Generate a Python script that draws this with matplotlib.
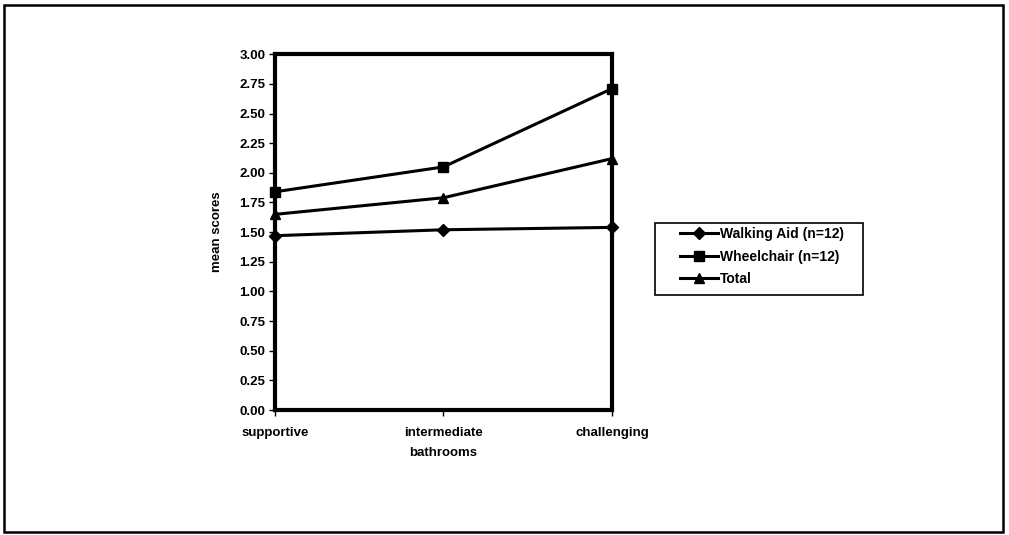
import matplotlib.pyplot as plt
from matplotlib.patches import Rectangle

# bathroom types and mean scores per group
categories = ["supportive", "intermediate", "challenging"]
walking_aid = [1.47, 1.52, 1.54]
wheelchair = [1.84, 2.05, 2.71]
total = [1.65, 1.79, 2.12]

plt.rcParams['font.family'] = ['Liberation Sans', 'DejaVu Sans']
plt.rcParams['font.weight'] = 'bold'

fig = plt.figure(figsize=(10.09, 5.35), dpi=100)

# outer frame around the whole chart
fig.patches.append(Rectangle((0.004, 0.005), 0.99, 0.985, transform=fig.transFigure,
                             fill=False, edgecolor='black', linewidth=1.8))

ax = fig.add_axes([0.2725, 0.2336, 0.334, 0.665])
x = range(len(categories))
ax.plot(x, walking_aid, color='black', lw=2.2, marker='D', ms=6.5, label='Walking Aid (n=12)', clip_on=False, zorder=5)
ax.plot(x, wheelchair, color='black', lw=2.2, marker='s', ms=7, label='Wheelchair (n=12)', clip_on=False, zorder=5)
ax.plot(x, total, color='black', lw=2.2, marker='^', ms=7.5, label='Total', clip_on=False, zorder=5)

ax.set_xlim(0, 2)
ax.set_ylim(0, 3)
ax.set_yticks([i * 0.25 for i in range(13)])
ax.set_yticklabels([f"{i * 0.25:.2f}" for i in range(13)])
ax.set_xticks(list(x))
ax.set_xticklabels(categories)
ax.tick_params(axis='both', direction='out', length=4, width=1, labelsize=9.5, pad=3)
ax.tick_params(axis='x', pad=8)
for s in ax.spines.values():
    s.set_linewidth(3)

ax.set_xlabel("bathrooms", fontsize=9.5, fontweight='bold', labelpad=6)
ax.set_ylabel("mean scores", fontsize=9.5, fontweight='bold', labelpad=12)

# legend entries without frame, box drawn separately
leg = fig.legend(loc='upper left', bbox_to_anchor=(680 / 1009, 1 - 227 / 535), frameon=False,
                 fontsize=10, handlelength=2.75, borderpad=0, borderaxespad=0,
                 labelspacing=0.62, handletextpad=0.15)
fig.patches.append(Rectangle((655 / 1009, 1 - 295 / 535), 208 / 1009, 72 / 535,
                             transform=fig.transFigure, fill=False, edgecolor='black',
                             linewidth=1.2))

fig.savefig("out.png", dpi=100)
